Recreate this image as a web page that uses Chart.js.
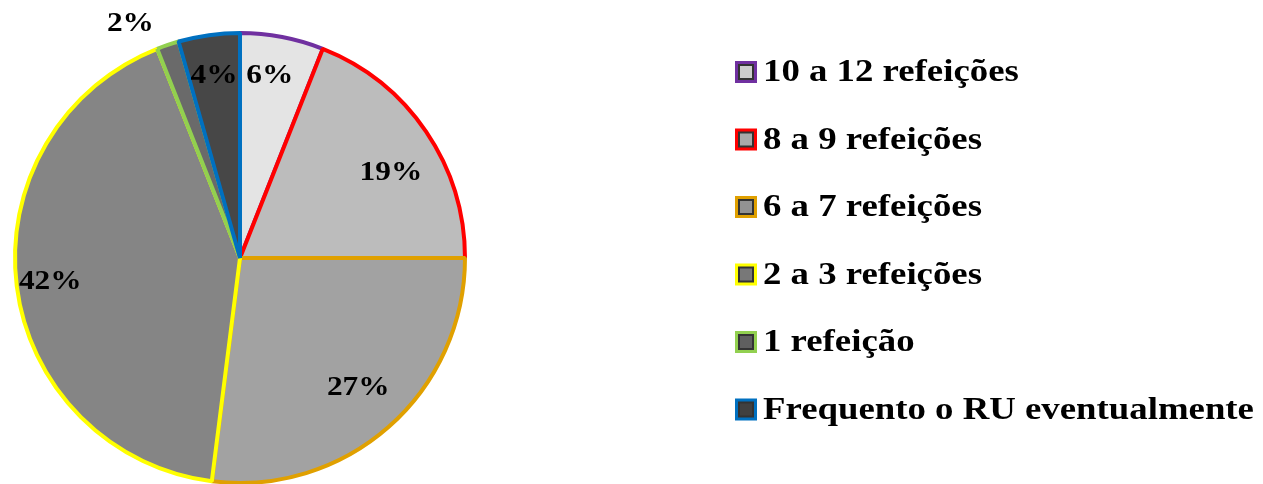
<!DOCTYPE html>
<html>
<head>
<meta charset="utf-8">
<script src="https://cdn.jsdelivr.net/npm/chart.js@4"></script>
<style>
  html, body { margin: 0; padding: 0; background: #fff; overflow: hidden; }
  #wrap { position: relative; width: 1263px; height: 490px; }
</style>
</head>
<body>
<div id="wrap"><canvas id="pieChart"></canvas></div>
<script>
// data
var categories = ['10 a 12 refeições', '8 a 9 refeições', '6 a 7 refeições', '2 a 3 refeições', '1 refeição', 'Frequento o RU eventualmente'];
var values = [6, 19, 27, 42, 1.6, 4.4];
var valueLabels = ['6%', '19%', '27%', '42%', '2%', '4%'];

var fills = ['#e4e4e4', '#bcbcbc', '#a2a2a2', '#858585', '#6a6a6a', '#474747'];
var borders = ['#7030a0', '#ff0000', '#e0a000', '#ffff00', '#92d050', '#0070c0'];
// where each % label sits: fraction through slice angle, fraction of radius
var labelPos = [[0.43, 0.82], [0.57, 0.77], [0.49, 0.78], [0.5, 0.85], [-0.6, 1.15], [0.49, 0.82]];

var font = '"Liberation Serif", "Times New Roman", serif';

// text in the original is a bit wider than normal Times
function wideText(c, txt, x, y, sx, align) {
    c.save();
    var w = c.measureText(txt).width * sx;
    var left = align === 'center' ? x - w / 2 : x;
    c.translate(left, y);
    c.scale(sx, 1);
    c.textAlign = 'left';
    c.fillText(txt, 0, 0);
    c.restore();
}

function sliceFill(ctx) {
    var arc = ctx.element;
    var base = fills[ctx.dataIndex];
    if (!arc || !arc.outerRadius) return base;
    var c = ctx.chart.ctx;
    var g = c.createRadialGradient(arc.x, arc.y, 0, arc.x, arc.y, arc.outerRadius);
    g.addColorStop(0, base);
    g.addColorStop(0.9, base);
    g.addColorStop(0.95, Chart.helpers.color(base).lighten(0.12).rgbString());
    g.addColorStop(1, Chart.helpers.color(base).darken(0.15).rgbString());
    return g;
}

var labelPlugin = {
    id: 'pctLabels',
    afterDatasetsDraw: function (chart) {
        var c = chart.ctx;
        var arcs = chart.getDatasetMeta(0).data;
        c.save();
        c.font = 'bold 28px ' + font;
        c.fillStyle = '#000';
        c.textBaseline = 'middle';
        arcs.forEach(function (arc, i) {
            var p = labelPos[i];
            var a = arc.startAngle + (arc.endAngle - arc.startAngle) * p[0];
            var r = arc.outerRadius * p[1];
            wideText(c, valueLabels[i], arc.x + Math.cos(a) * r, arc.y + Math.sin(a) * r, 1.12, 'center');
        });
        c.restore();
    }
};

var legendPlugin = {
    id: 'sideLegend',
    afterDraw: function (chart) {
        var c = chart.ctx;
        var x0 = 735, y0 = 72, step = 67.5, box = 22;
        c.save();
        c.font = 'bold 32px ' + font;
        c.textBaseline = 'middle';
        categories.forEach(function (name, i) {
            var y = y0 + i * step;
            c.fillStyle = borders[i];
            c.fillRect(x0, y - box / 2, box, box);
            c.fillStyle = '#333';
            c.fillRect(x0 + 3, y - box / 2 + 3, box - 6, box - 6);
            c.fillStyle = Chart.helpers.color(fills[i]).darken(0.1).rgbString();
            c.fillRect(x0 + 5, y - box / 2 + 5, box - 10, box - 10);
            c.fillStyle = '#000';
            wideText(c, name, x0 + 28, y + 1, 1.15, 'left');
        });
        c.restore();
    }
};

var pieCtx = document.getElementById('pieChart').getContext('2d');
var pieChart = new Chart(pieCtx, {
    type: 'pie',
    data: {
        labels: categories,
        datasets: [{
            data: values,
            backgroundColor: sliceFill,
            borderColor: borders,
            borderWidth: 4
        }]
    },
    options: {
        responsive: true,
        maintainAspectRatio: false,
        animation: false,
        layout: { padding: { left: 13, top: 31, right: 796, bottom: 5 } },
        plugins: {
            legend: { display: false },
            tooltip: { enabled: false }
        }
    },
    plugins: [labelPlugin, legendPlugin]
});
</script>
</body>
</html>
